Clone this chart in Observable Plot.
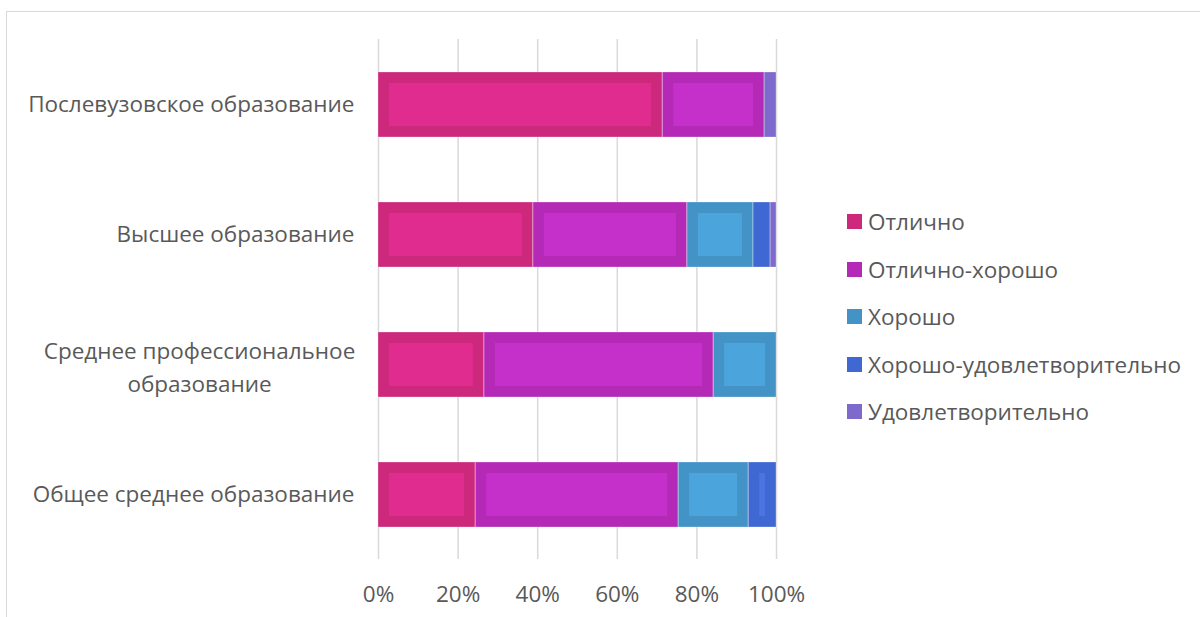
<!DOCTYPE html>
<html>
<head>
<meta charset="utf-8">
<script src="https://cdn.jsdelivr.net/npm/d3@7"></script>
<script src="https://cdn.jsdelivr.net/npm/@observablehq/plot@0.6"></script>
<style>
  html, body { margin: 0; padding: 0; background: #fff; }
  #wrap { position: relative; width: 1200px; height: 617px; overflow: hidden; font-family: "Open Sans", "Noto Sans", sans-serif; }
  #frame { position: absolute; left: 6px; top: 11px; width: 1300px; height: 700px; border-top: 1.5px solid #d9d9d9; border-left: 1.5px solid #d9d9d9; }
  #chart { position: absolute; left: 0; top: 0; }
  #legend { position: absolute; left: 847px; top: 198px; }
  .item { display: flex; align-items: center; height: 47.5px; font-size: 22.5px; color: #595959; }
  .sw { width: 15px; height: 15px; margin-right: 6px; }
</style>
</head>
<body>
<div id="wrap">
  <div id="frame"></div>
  <div id="chart"></div>
  <div id="legend"></div>
</div>
<script>
const categories = [
  "Послевузовское образование",
  "Высшее образование",
  "Среднее профессиональное образование",
  "Общее среднее образование"
];
const series = ["Отлично", "Отлично-хорошо", "Хорошо", "Хорошо-удовлетворительно", "Удовлетворительно"];
// percentages per category, in series order
const values = {
  "Отлично":                  [71.4, 38.9, 26.6, 24.4],
  "Отлично-хорошо":           [25.6, 38.7, 57.6, 51.0],
  "Хорошо":                   [0,    16.6, 15.8, 17.6],
  "Хорошо-удовлетворительно": [0,    4.3,  0,    7.0],
  "Удовлетворительно":        [3.0,  1.5,  0,    0]
};
const tickLabels = ["0%", "20%", "40%", "60%", "80%", "100%"];
const outerColors = ["#cc297d", "#b42ab6", "#4393c6", "#4068d2", "#7e6acc"];
const innerColors = ["#e02b8f", "#c52fca", "#4ca4dc", "#4a74e2", "#7e6acc"];

const data = [];
series.forEach((s, si) => categories.forEach((c, ci) => {
  data.push({category: c, series: s, value: values[s][ci] / 100, si});
}));

const wrapped = "Среднее профессиональное образование";
const fmtCat = c => c === wrapped ? "Среднее профессиональное\nобразование" : c;

const stackOpts = {y: "category", x: "value", z: "series", order: series, offset: "normalize"};
const FS = 22.5;

const plot = Plot.plot({
  width: 1200,
  height: 617,
  marginLeft: 378,
  marginRight: 424,
  marginTop: 39,
  marginBottom: 58,
  style: {fontFamily: '"Open Sans", "Noto Sans", sans-serif', background: "transparent"},
  x: {domain: [0, 1], ticks: [0, 0.2, 0.4, 0.6, 0.8, 1]},
  y: {domain: categories, padding: 0.5, paddingOuter: 0.25},
  marks: [
    Plot.gridX({ticks: [0, 0.2, 0.4, 0.6, 0.8, 1], stroke: "#d9d9d9", strokeOpacity: 1, strokeWidth: 1.5}),
    Plot.barX(data, Plot.stackX({...stackOpts, fill: d => outerColors[d.si]})),
    Plot.barX(data, Plot.stackX({...stackOpts, fill: d => innerColors[d.si], inset: 11})),
    Plot.barX(data, Plot.stackX({...stackOpts, fill: "none", stroke: "#ffffff", strokeOpacity: 0.35, strokeWidth: 0.8})),
    Plot.axisX({ticks: [0, 0.2, 0.4, 0.6, 0.8, 1], tickFormat: (d, i) => tickLabels[i], tickSize: 0, tickPadding: 27, fontSize: FS, color: "#595959", label: null}),
    Plot.axisY({ticks: categories.filter(c => c !== wrapped), tickSize: 0, tickPadding: 24, fontSize: FS, color: "#595959", label: null}),
    Plot.axisY({ticks: [wrapped], tickFormat: fmtCat, textAnchor: "middle", dx: -155, lineHeight: 1.45, tickSize: 0, tickPadding: 24, fontSize: FS, color: "#595959", label: null})
  ]
});
document.getElementById("chart").appendChild(plot);

const legend = document.getElementById("legend");
series.forEach((s, i) => {
  const item = document.createElement("div");
  item.className = "item";
  item.innerHTML = `<div class="sw" style="background:${outerColors[i]}"></div><span>${s}</span>`;
  legend.appendChild(item);
});
</script>
</body>
</html>
